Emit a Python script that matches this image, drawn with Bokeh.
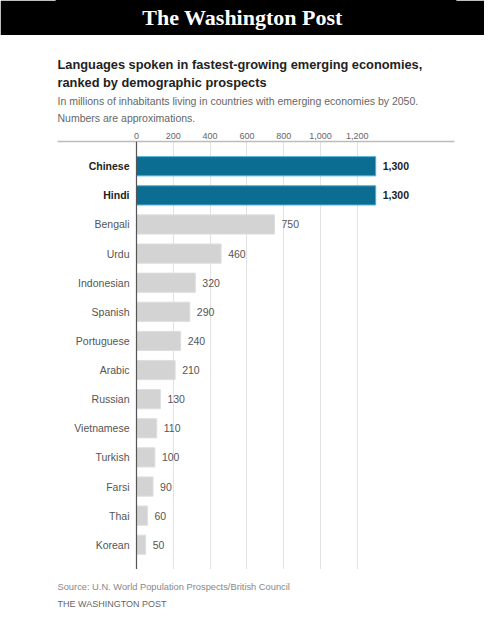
# Languages of the fastest-growing emerging economies, Washington Post style bar chart

from bokeh.embed import file_html
from bokeh.layouts import column
from bokeh.models import ColumnDataSource, FactorRange, FixedTicker, Label, NumeralTickFormatter, Range1d, Span
from bokeh.plotting import figure
from bokeh.resources import INLINE
from bokeh.core.properties import value

LANGUAGES = ["Chinese", "Hindi", "Bengali", "Urdu", "Indonesian", "Spanish", "Portuguese",
             "Arabic", "Russian", "Vietnamese", "Turkish", "Farsi", "Thai", "Korean"]
SPEAKERS = [1300, 1300, 750, 460, 320, 290, 240, 210, 130, 110, 100, 90, 60, 50]
HIGHLIGHTED = ["Chinese", "Hindi"]
X_TICKS = [0, 200, 400, 600, 800, 1000, 1200]

MASTHEAD = "The Washington Post"
TITLE_LINES = ["Languages spoken in fastest-growing emerging economies,",
               "ranked by demographic prospects"]
SUBTITLE_LINES = ["In millions of inhabitants living in countries with emerging economies by 2050.",
                  "Numbers are approximations."]
SOURCE = "Source: U.N. World Population Prospects/British Council"
CREDIT = "THE WASHINGTON POST"

FONT = "Liberation Sans"
BLUE, BLUE_EDGE = "#0b6d92", "#4eb0d3"
GREY, GREY_EDGE = "#d3d3d3", "#dedede"
WIDTH = 484
BORDER_LEFT, BORDER_RIGHT = 57, 30


def blank_figure(height, **kwargs):
    """A figure with no axes, used as a canvas for header and footer texts."""
    f = figure(width=WIDTH, height=height, x_range=(0, 1), y_range=(0, 1), toolbar_location=None,
               output_backend="svg", x_axis_location=None, y_axis_location=None,
               min_border_left=BORDER_LEFT, min_border_right=BORDER_RIGHT,
               min_border_top=0, min_border_bottom=0, outline_line_color=None, **kwargs)
    f.grid.visible = False
    return f


def add_texts(f, texts):
    for text, y, size, style, colour in texts:
        f.add_layout(Label(x=BORDER_LEFT, y=y, x_units="canvas", y_units="canvas", text=text,
                           text_baseline="middle", text_font=FONT, text_font_size=size,
                           text_font_style=style, text_color=colour))


def masthead():
    """Black band with the paper's name."""
    m = blank_figure(35, background_fill_color="black", border_fill_color="black")
    # a thick black outline hides the seam between frame and border
    m.outline_line_color = "black"
    m.outline_line_width = 4
    m.add_layout(Label(x=WIDTH / 2, y=17, x_units="canvas", y_units="canvas", text=MASTHEAD,
                       text_align="center", text_baseline="middle", text_color="white",
                       text_font="Liberation Serif", text_font_style="bold", text_font_size="22px"))
    return m


def header():
    h = blank_figure(92)
    add_texts(h, [
        (TITLE_LINES[0], 29, "12.8px", "bold", "#222222"),
        (TITLE_LINES[1], 47, "12.8px", "bold", "#222222"),
        (SUBTITLE_LINES[0], 65, "10.5px", "normal", "#666666"),
        (SUBTITLE_LINES[1], 82, "10.5px", "normal", "#666666"),
    ])
    return h


def footer():
    f = blank_figure(44)
    add_texts(f, [
        (SOURCE, 17, "9.3px", "normal", "#888888"),
        (CREDIT, 34, "9px", "normal", "#666666"),
    ])
    return f


def chart():
    hot = [lang in HIGHLIGHTED for lang in LANGUAGES]
    source = ColumnDataSource(dict(
        language=LANGUAGES,
        speakers=SPEAKERS,
        label=[f"{v:,}" for v in SPEAKERS],
        fill=[BLUE if h else GREY for h in hot],
        edge=[BLUE_EDGE if h else GREY_EDGE for h in hot],
        name_color=["#222222" if h else "#555555" for h in hot],
        style=["bold" if h else "normal" for h in hot],
    ))

    y_range = FactorRange(factors=LANGUAGES[::-1], range_padding=0.35, range_padding_units="absolute")
    p = figure(width=WIDTH, height=442, y_range=y_range, x_range=Range1d(-429.3, 1728.3),
               x_axis_location="above", y_axis_location=None, toolbar_location=None,
               output_backend="svg", min_border_left=BORDER_LEFT, min_border_right=BORDER_RIGHT,
               min_border_top=14, min_border_bottom=0, outline_line_color=None)

    # axis and grid
    p.ygrid.grid_line_color = None
    p.xgrid.ticker = FixedTicker(ticks=X_TICKS[1:])
    p.xgrid.grid_line_color = "#e2e2e2"
    p.xaxis.ticker = FixedTicker(ticks=X_TICKS)
    p.xaxis.formatter = NumeralTickFormatter(format="0,0")
    p.xaxis.major_tick_out = 0
    p.xaxis.major_tick_in = 0
    p.xaxis.minor_tick_out = 0
    p.xaxis.axis_line_color = "#bcbcbc"
    p.xaxis.axis_line_width = 1.5
    p.xaxis.major_label_standoff = 3
    p.xaxis.major_label_text_font = FONT
    p.xaxis.major_label_text_font_size = "9px"
    p.xaxis.major_label_text_color = "#666666"

    # bars and labels
    p.hbar(y="language", left=0, right="speakers", height=0.66, source=source,
           fill_color="fill", line_color="edge", line_width=1)
    p.text(x=0, y="language", text="language", source=source, x_offset=-7,
           text_align="right", text_baseline="middle", text_font=value(FONT),
           text_font_size="10.5px", text_color="name_color", text_font_style="style")
    p.text(x="speakers", y="language", text="label", source=source, x_offset=7,
           text_align="left", text_baseline="middle", text_font=value(FONT),
           text_font_size="10.5px", text_color="name_color", text_font_style="style")

    p.add_layout(Span(location=0, dimension="height", line_color="#555555", line_width=1.2))
    return p


def main():
    page = column(masthead(), header(), chart(), footer())
    open("out.html", "w").write(file_html(page, INLINE))


if __name__ == '__main__':
    main()
